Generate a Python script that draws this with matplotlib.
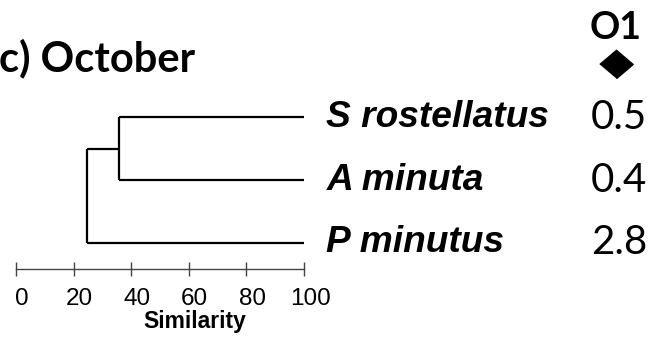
import matplotlib.pyplot as plt
import matplotlib.transforms as mtransforms

# leaves (top to bottom) and the O1 values shown beside them
species = ["S rostellatus", "A minuta", "P minutus"]
o1_values = ["0.5", "0.4", "2.8"]
leaf_y = [3, 2, 1]

# merges: similarity level at which clusters join
merge_sa = 35.8   # S rostellatus + A minuta
merge_all = 24.5  # (S, A) + P minutus

ticks = [0, 20, 40, 60, 80, 100]

fig = plt.figure(figsize=(6.56, 3.42), dpi=100)
W, H = 656, 342
ax = fig.add_axes([16 / W, 73 / H, 288 / W, 179 / H])
ax.set_xlim(0, 100)
ax.set_ylim(0.587, 3.429)

lw = 1.6
# leaf branches
ax.hlines(leaf_y[0], merge_sa, 101, color="black", lw=lw)
ax.hlines(leaf_y[1], merge_sa, 101, color="black", lw=lw)
ax.vlines(merge_sa, leaf_y[1], leaf_y[0], color="black", lw=lw)
mid_sa = (leaf_y[0] + leaf_y[1]) / 2
ax.hlines(mid_sa, merge_all, merge_sa, color="black", lw=lw)
ax.hlines(leaf_y[2], merge_all, 101, color="black", lw=lw)
ax.vlines(merge_all, leaf_y[2], mid_sa, color="black", lw=lw)

# labels and values
for name, val, y in zip(species, o1_values, leaf_y):
    ax.text(107.8, y, name, fontsize=26.7, fontweight="bold", style="italic",
            family="Liberation Sans", va="center", ha="left", clip_on=False)
    ax.text(209.5, y, val, fontsize=29, family="Lato", va="center",
            ha="center", clip_on=False)

# column header with diamond
ax.text(208.3, 3 + (117 - 28) / 63, "O1", fontsize=27, fontweight="bold",
        family="Lato", va="center", ha="center", clip_on=False)
ax.plot([208.3], [3 + (117 - 64) / 63], marker=[(-1, 0), (0, 0.85), (1, 0), (0, -0.85)],
        markersize=24, color="black", clip_on=False)

# scale axis
for s in ["top", "right", "left"]:
    ax.spines[s].set_visible(False)
ax.spines["bottom"].set_color("#444444")
ax.spines["bottom"].set_linewidth(1)
ax.set_yticks([])
ax.set_xticks(ticks)
ax.tick_params(axis="x", direction="inout", length=10, width=1, color="#444444",
               pad=9, labelsize=17.5)
shift = mtransforms.ScaledTranslation(6 / 100, 0, fig.dpi_scale_trans)
for lab in ax.get_xticklabels():
    lab.set_family("Liberation Sans")
    lab.set_transform(lab.get_transform() + shift)
ax.set_xlabel("Similarity", fontsize=16.5, fontweight="bold",
              family="Liberation Sans", labelpad=0, x=0.62)

fig.text(195 / W, 1 - 58 / H, "c) October", fontsize=30, fontweight="bold",
         family="Lato", ha="right", va="center")

fig.savefig("out.png", dpi=100)
